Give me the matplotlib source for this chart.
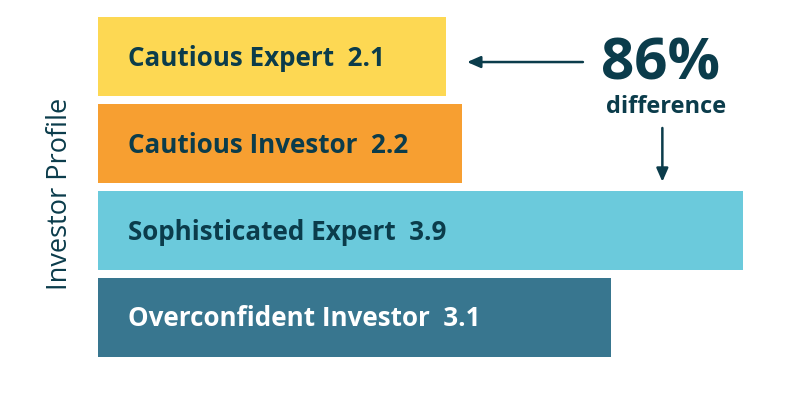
import matplotlib.pyplot as plt

# Investor profiles, top to bottom
profiles = ["Cautious Expert", "Cautious Investor", "Sophisticated Expert", "Overconfident Investor"]
scores = [2.1, 2.2, 3.9, 3.1]
bar_colors = ["#FDD853", "#F79F31", "#6BCADC", "#38768F"]
text_colors = ["#0B3C4B", "#0B3C4B", "#0B3C4B", "#FFFFFF"]

callout_value = "86%"
callout_text = "difference"

dark = "#0B3C4B"
font = "Open Sans"

fig = plt.figure(figsize=(7.93, 4.04), dpi=100)
ax = fig.add_axes([98 / 793, 0.1077, 662 / 793, 0.859])

ypos = list(range(len(profiles)))
ax.barh(ypos, scores, height=0.91, color=bar_colors)

for y, name, val, tc in zip(ypos, profiles, scores, text_colors):
    ax.text(0.18, y + 0.02, f"{name}  {val}", ha="left", va="center", fontsize=18.7,
            fontweight="bold", color=tc, family=font)

ax.set_xlim(0, 4.0)
ax.set_ylim(3.5, -0.5)
ax.axis("off")

# callout
ax.text(3.40, 0.09, callout_value, ha="center", va="center", fontsize=42,
        fontweight="bold", color=dark, family=font)
ax.text(3.43, 0.58, callout_text, ha="center", va="center", fontsize=17,
        fontweight="bold", color=dark, family=font)
ax.annotate("", xy=(2.23, 0.06), xytext=(2.93, 0.06),
            arrowprops=dict(arrowstyle="-|>,head_length=0.8,head_width=0.35",
                            color=dark, lw=1.8, shrinkA=0, shrinkB=0))
ax.annotate("", xy=(3.41, 1.44), xytext=(3.41, 0.82),
            arrowprops=dict(arrowstyle="-|>,head_length=0.8,head_width=0.35",
                            color=dark, lw=1.8, shrinkA=0, shrinkB=0))

fig.text(60 / 793, 1 - 194 / 404, "Investor Profile", rotation=90, ha="center",
         va="center", fontsize=19.5, color=dark, family=font)

fig.savefig("out.png", dpi=100)
